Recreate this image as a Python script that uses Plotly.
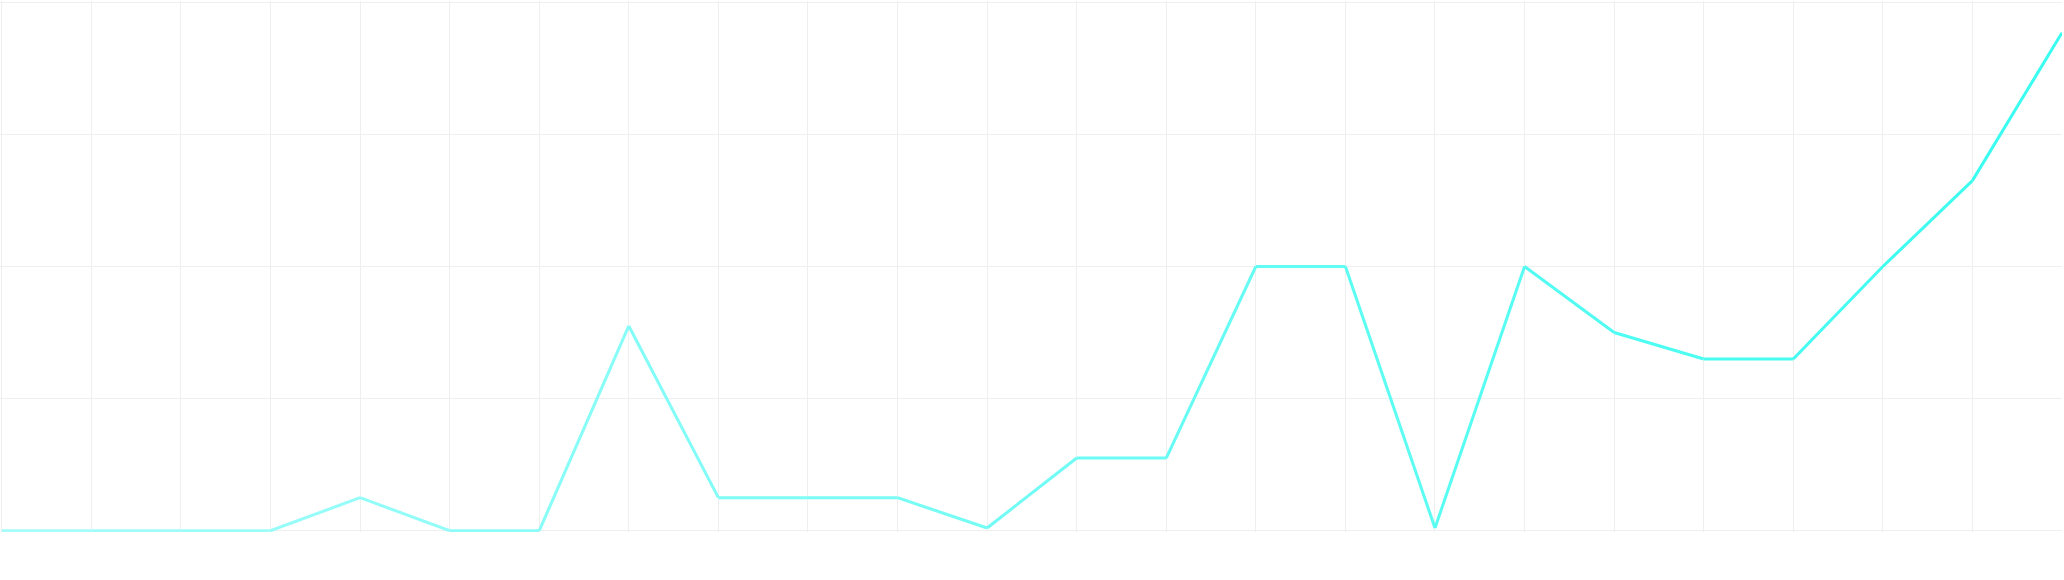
import plotly.graph_objects as go

# Data (24 evenly spaced points)
x_idx = list(range(24))
values = [0, 0, 0, 0, 0.25, 0, 0, 1.55, 0.25, 0.25, 0.25, 0.02,
          0.55, 0.55, 2.0, 2.0, 0.02, 2.0, 1.5, 1.3, 1.3, 2.0, 2.65, 3.77]

start_rgb = (165, 252, 250)
end_rgb = (58, 252, 240)

fig = go.Figure()
n = len(x_idx)
for i in range(n - 1):
    t = i / (n - 2)
    c = tuple(round(start_rgb[k] + (end_rgb[k] - start_rgb[k]) * t) for k in range(3))
    fig.add_trace(go.Scatter(
        x=x_idx[i:i + 2], y=values[i:i + 2], mode="lines",
        line=dict(color=f"rgb{c}", width=3),
        hoverinfo="skip", showlegend=False, cliponaxis=False,
    ))

fig.update_layout(
    width=2064, height=580,
    margin=dict(l=0, r=2, t=1, b=48),
    paper_bgcolor="white", plot_bgcolor="white",
    showlegend=False,
)
fig.update_xaxes(range=[-0.02, 23.0], dtick=1, tick0=0, showgrid=True, gridcolor="#efefef",
                 gridwidth=1, zeroline=False, showticklabels=False, showline=False, ticks="")
fig.update_yaxes(range=[-0.01, 4.01], dtick=1, tick0=0, showgrid=True, gridcolor="#efefef",
                 gridwidth=1, zeroline=False, showticklabels=False, showline=False, ticks="")

fig.write_html("out.html", config={"displayModeBar": False},
               post_script="document.body.style.margin='0';")
